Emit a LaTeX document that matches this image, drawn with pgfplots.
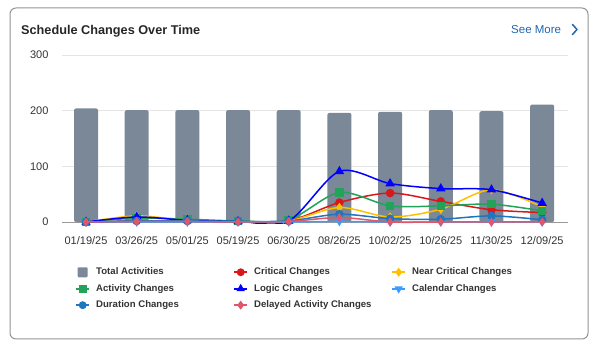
\documentclass[border=0pt]{standalone}
\usepackage{pgfplots}
\pgfplotsset{compat=1.18}
\usepackage{fontspec}
\setmainfont{Liberation Sans}
\definecolor{cTotal}{HTML}{7A8898}
\definecolor{cCrit}{HTML}{D7191C}
\definecolor{cNear}{HTML}{FFC000}
\definecolor{cAct}{HTML}{21A35A}
\definecolor{cLogic}{HTML}{0000FF}
\definecolor{cCal}{HTML}{3D9BFF}
\definecolor{cDur}{HTML}{1F75C0}
\definecolor{cDel}{HTML}{E0566B}
\definecolor{cText}{HTML}{333333}
\definecolor{cLink}{HTML}{1F66B0}
\newcommand{\lb}[1]{\makebox[135pt][l]{#1}}
\begin{document}
\begin{tikzpicture}[x=1pt,y=1pt]
\path[use as bounding box] (0,0) rectangle (600,353);
\draw[color=gray!85, line width=1pt, rounded corners=6pt] (10,14) rectangle (588,345);
\node[anchor=base west, inner sep=0pt, text=black!85, font=\fontsize{12.7}{14}\selectfont\bfseries] at (21,318.5) {Schedule Changes Over Time};
\node[anchor=base west, inner sep=0pt, text=cLink, font=\fontsize{11.5}{13}\selectfont] at (511,319) {See More};
\draw[cLink, line width=1.5pt, line cap=round, line join=round] (572.5,328.5) -- (577,323.5) -- (572.5,318.5);
\begin{axis}[
  at={(62pt,129.33pt)}, anchor=south west,
  scale only axis, width=506pt, height=168.67pt,
  xmin=-0.474, xmax=9.51, ymin=-3, ymax=300,
  clip mode=individual,
  axis x line=middle, axis y line=left,
  x axis line style={draw=gray!80, line width=0.8pt, -},
  y axis line style={draw=none},
  major tick length=0pt,
  ytick={0,100,200,300},
  ymajorgrids, grid style={draw=black!10, line width=0.7pt},
  xtick={0,...,9},
  xticklabels={01/19/25,03/26/25,05/01/25,05/19/25,06/30/25,08/26/25,10/02/25,10/26/25,11/30/25,12/09/25},
  tick label style={font=\fontsize{11}{13}\selectfont, text=cText},
  /pgf/number format/assume math mode=true,
  xticklabel style={anchor=north, yshift=-11pt},
  yticklabel style={anchor=east, xshift=-10pt},
  legend columns=3,
  legend cell align=left,
  legend style={at={(0.0257,-0.25)}, anchor=north west, draw=none, fill=none,
    inner sep=0pt, row sep=4pt,
    font=\fontsize{9.6}{11}\selectfont\bfseries, text=cText,
    /tikz/every odd column/.append style={column sep=4pt},
    /tikz/every even column/.append style={column sep=0pt}},
  legend image code/.code={\draw[mark repeat=2,mark phase=2,#1,line width=2pt,mark size=2.9pt] plot coordinates {(0pt,0pt) (6.5pt,0pt) (13pt,0pt)};},
  every axis plot/.append style={line width=1.5pt, /tikz/tension=0.5},
]
\addplot[ybar, bar width=24pt, fill=cTotal, draw=none, bar shift=0pt, rounded corners=2pt,
  legend image code/.code={\fill[cTotal, rounded corners=1pt] (1.5pt,-5pt) rectangle (11.5pt,5pt);}]
  coordinates {(0,204) (1,201) (2,201) (3,201) (4,201) (5,196) (6,198) (7,201) (8,199) (9,211)};
\addlegendentry{\lb{Total Activities}}
\addplot[smooth, color=cCrit, mark=*, mark size=3.5pt]
  coordinates {(0,0) (1,2) (2,2) (3,1) (4,2) (5,35) (6,52) (7,37) (8,22) (9,17)};
\addlegendentry{\lb{Critical Changes}}
\addplot[smooth, color=cNear, mark=diamond*, mark size=3.5pt]
  coordinates {(0,0) (1,11) (2,3) (3,1) (4,2) (5,26) (6,9) (7,23) (8,58) (9,27)};
\addlegendentry{\lb{Near Critical Changes}}
\addplot[smooth, color=cAct, mark=square*, mark size=3.5pt]
  coordinates {(0,0) (1,7) (2,5) (3,2) (4,4) (5,53) (6,29) (7,29) (8,32) (9,20)};
\addlegendentry{\lb{Activity Changes}}
\addplot[smooth, color=cLogic, mark=triangle*, mark size=4pt]
  coordinates {(0,0) (1,9) (2,3) (3,1) (4,2) (5,91) (6,69) (7,60) (8,58) (9,34)};
\addlegendentry{\lb{Logic Changes}}
\addplot[smooth, color=cCal, mark=triangle*, mark size=3.5pt, mark options={rotate=180}]
  coordinates {(0,0) (1,0) (2,0) (3,0) (4,0) (5,1) (6,0) (7,0) (8,0) (9,0)};
\addlegendentry{\lb{Calendar Changes}}
\addplot[smooth, color=cDur, mark=*, mark size=3.5pt]
  coordinates {(0,0) (1,2) (2,2) (3,1) (4,2) (5,14) (6,6) (7,5) (8,11) (9,4)};
\addlegendentry{\lb{Duration Changes}}
\addplot[smooth, color=cDel, mark=diamond*, mark size=3.2pt]
  coordinates {(0,0) (1,1) (2,1) (3,0) (4,1) (5,8) (6,0) (7,0) (8,0) (9,0)};
\addlegendentry{\lb{Delayed Activity Changes}}
\end{axis}
\end{tikzpicture}
\end{document}
